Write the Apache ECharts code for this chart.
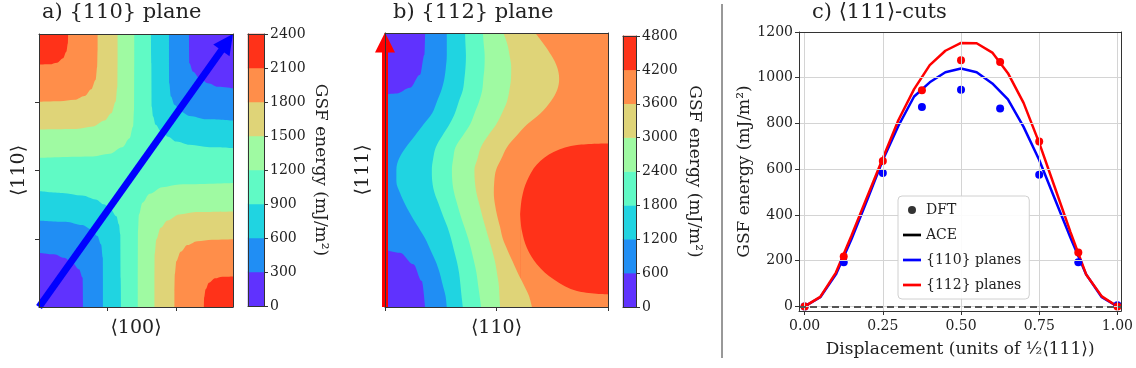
<!DOCTYPE html>
<html>
<head>
<meta charset="utf-8">
<script src="https://cdn.jsdelivr.net/npm/echarts@6/dist/echarts.min.js"></script>
<style>
  html, body { margin: 0; padding: 0; background: #fff; }
  #chart { width: 1136px; height: 368px; }
</style>
</head>
<body>
<div id="chart"></div>
<script>
// Contour edges. Map coordinates are fractions of each side:
// x from left to right, y from bottom to top.
const levels110 = [0, 300, 600, 900, 1200, 1500, 1800, 2100, 2400]
const levels112 = [0, 600, 1200, 1800, 2400, 3000, 3600, 4200, 4800]
const bandColors = ['#6032fe', '#208ef4', '#20d4e1', '#60fac5', '#9ffaa2', '#dfd478', '#ff8e4a', '#ff3219']

// a) {110} plane, [x, y] along each contour
const c1200TopLeft = [[0, 0.546], [0.278, 0.551], [0.364, 0.561], [0.43, 0.585], [0.467, 0.618], [0.485, 0.661], [0.49, 0.722], [0.491, 0.893], [0.491, 1]]
const c1500TopLeft = [[0, 0.65], [0.192, 0.652], [0.278, 0.661], [0.338, 0.683], [0.373, 0.71], [0.395, 0.752], [0.404, 0.807], [0.405, 0.893], [0.405, 1]]
const c1800TopLeft = [[0, 0.752], [0.107, 0.754], [0.184, 0.759], [0.235, 0.773], [0.27, 0.798], [0.292, 0.832], [0.3, 0.88], [0.302, 0.941], [0.302, 1]]
const c2100TopLeft = [[0, 0.888], [0.055, 0.889], [0.093, 0.895], [0.124, 0.911], [0.141, 0.935], [0.149, 0.966], [0.15, 1]]
const c900TopRight = [[0.577, 1], [0.579, 0.893], [0.581, 0.734], [0.588, 0.698], [0.601, 0.668], [0.63, 0.643], [0.665, 0.624], [0.708, 0.606], [0.777, 0.594], [0.88, 0.585], [1, 0.582]]
const c600TopRight = [[0.67, 1], [0.671, 0.82], [0.68, 0.771], [0.699, 0.74], [0.729, 0.716], [0.777, 0.7], [0.863, 0.688], [1, 0.683]]
const c300TopRight = [[0.773, 1], [0.775, 0.893], [0.794, 0.862], [0.828, 0.838], [0.871, 0.82], [0.923, 0.807], [1, 0.801]]
const c900BottomLeft = [[0, 0.425], [0.12, 0.418], [0.223, 0.408], [0.292, 0.394], [0.335, 0.376], [0.37, 0.357], [0.399, 0.332], [0.412, 0.302], [0.419, 0.266], [0.421, 0.107], [0.423, 0]]
const c600BottomLeft = [[0, 0.317], [0.137, 0.312], [0.223, 0.3], [0.271, 0.284], [0.301, 0.26], [0.32, 0.229], [0.329, 0.18], [0.33, 0]]
const c300BottomLeft = [[0, 0.199], [0.077, 0.193], [0.129, 0.18], [0.172, 0.162], [0.206, 0.138], [0.225, 0.107], [0.227, 0]]
const c1200BottomRight = [[0.509, 0], [0.509, 0.107], [0.51, 0.278], [0.515, 0.339], [0.533, 0.382], [0.57, 0.415], [0.636, 0.439], [0.722, 0.449], [1, 0.454]]
const c1500BottomRight = [[0.595, 0], [0.595, 0.107], [0.596, 0.193], [0.605, 0.248], [0.627, 0.29], [0.662, 0.317], [0.722, 0.339], [0.808, 0.348], [1, 0.35]]
const c1800BottomRight = [[0.698, 0], [0.698, 0.059], [0.7, 0.12], [0.708, 0.168], [0.73, 0.202], [0.765, 0.227], [0.816, 0.241], [0.893, 0.246], [1, 0.248]]
const c2100BottomRight = [[0.85, 0], [0.851, 0.034], [0.859, 0.065], [0.876, 0.089], [0.907, 0.105], [0.945, 0.111], [1, 0.112]]

// b) {112} plane, x of each contour on 25 rows from top to bottom
const c1200Rows = [0.277, 0.277, 0.277, 0.273, 0.266, 0.253, 0.233, 0.212, 0.173, 0.134, 0.094, 0.063, 0.051, 0.051, 0.067, 0.09, 0.118, 0.149, 0.18, 0.204, 0.227, 0.245, 0.258, 0.271, 0.277]
const c1800Rows = [0.359, 0.361, 0.363, 0.361, 0.356, 0.349, 0.331, 0.314, 0.289, 0.257, 0.228, 0.216, 0.21, 0.212, 0.222, 0.241, 0.26, 0.28, 0.296, 0.309, 0.322, 0.332, 0.338, 0.343, 0.349]
const c2400Rows = [0.439, 0.443, 0.447, 0.446, 0.441, 0.436, 0.422, 0.402, 0.382, 0.349, 0.316, 0.306, 0.3, 0.302, 0.31, 0.324, 0.339, 0.356, 0.373, 0.387, 0.399, 0.41, 0.417, 0.424, 0.431]
const c3000Rows = [0.531, 0.549, 0.559, 0.566, 0.565, 0.558, 0.547, 0.525, 0.499, 0.462, 0.43, 0.415, 0.401, 0.403, 0.41, 0.423, 0.436, 0.45, 0.465, 0.48, 0.493, 0.502, 0.51, 0.513, 0.516]
const c3600Rows = [0.674, 0.713, 0.747, 0.772, 0.781, 0.772, 0.743, 0.699, 0.638, 0.59, 0.547, 0.522, 0.498, 0.49, 0.488, 0.493, 0.503, 0.516, 0.528, 0.549, 0.572, 0.595, 0.621, 0.645, 0.659]
// b) closed pockets, [x, y]
const c600Top = [[0, 0.775], [0.052, 0.779], [0.112, 0.8], [0.157, 0.848], [0.177, 0.921], [0.18, 1]]
const c600Bottom = [[0, 0.21], [0.067, 0.198], [0.127, 0.156], [0.165, 0.095], [0.18, 0]]
const c4200Upper = [[0.606, 0.338], [0.614, 0.399], [0.636, 0.459], [0.681, 0.52], [0.756, 0.566], [0.861, 0.591], [1, 0.597]]
const c4200Lower = [[0.606, 0.338], [0.614, 0.277], [0.636, 0.216], [0.681, 0.156], [0.756, 0.101], [0.861, 0.058], [1, 0.046]]

// map ticks and cut arrows
const ticks110x = [0.3536, 0.7071]
const ticks110y = [0.25, 0.5, 0.75]
const ticks112x = [0, 0.5, 1]
const arrow110 = [[0, 0], [0.97, 0.97]]
const arrow112 = [[0, 0], [0, 0.965]]

// c) <111> cuts
const displacement = [0, 0.05, 0.1, 0.15, 0.2, 0.25, 0.3, 0.35, 0.4, 0.45, 0.5,
  0.55, 0.6, 0.65, 0.7, 0.75, 0.8, 0.85, 0.9, 0.95, 1]
const ace110 = [0, 40, 140, 295, 465, 640, 790, 918, 980, 1024, 1040,
  1024, 975, 905, 785, 640, 470, 300, 140, 40, 0]
const ace112 = [0, 42, 148, 310, 480, 648, 815, 950, 1055, 1118, 1152,
  1151, 1110, 1020, 890, 715, 520, 325, 140, 44, 0]
const dftDisplacement = [0, 0.125, 0.25, 0.375, 0.5, 0.625, 0.75, 0.875, 1]
const dft110 = [0, 193, 583, 872, 948, 865, 576, 193, 5]
const dft112 = [0, 218, 636, 945, 1077, 1069, 721, 236, 0]
const cutTicksX = [0, 0.25, 0.5, 0.75, 1]
const cutTicksY = [0, 200, 400, 600, 800, 1000, 1200]

const serif = 'DejaVu Serif'
const ink = '#222'
const nameStyle = { fontFamily: serif, fontSize: 19, color: ink }
const labelStyle = { fontFamily: serif, fontSize: 14, color: ink }
const frame = { show: true, onZero: false, lineStyle: { color: '#333', width: 1 } }
const plain = (v) => String(v)

const xAxes = []
const yAxes = []

function axis(list, opts) {
  list.push(Object.assign({
    z: 5,
    axisLine: { show: false },
    axisTick: { show: false },
    axisLabel: { show: false },
    splitLine: { show: false },
  }, opts))
  return list.length - 1
}

function edges(gridIndex) {
  axis(xAxes, { gridIndex, type: 'value', position: 'top', min: 0, max: 1, axisLine: frame })
  axis(yAxes, { gridIndex, type: 'value', position: 'right', min: 0, max: 1, axisLine: frame })
}

const indices = (n) => Array.from({ length: n }, (_, i) => i)
const tick = (values) => ({ show: true, customValues: values, length: 4, lineStyle: { color: '#333' } })

function pieces(levels) {
  return bandColors.map((c, k) => ({ gte: levels[k], lt: levels[k + 1], color: c }))
}

function barCells(levels) {
  return bandColors.map((c, k) => [0, k, (levels[k] + levels[k + 1]) / 2])
}

// filled band beyond one contour; origin says which plot side it fills towards
function band(points, level, levels, side, origin, xi, yi, monotone = 'x') {
  const k = levels.indexOf(level) + (side === 'above' ? 0 : -1)
  return {
    type: 'line', xAxisIndex: xi, yAxisIndex: yi, data: points,
    smooth: 0.35, smoothMonotone: monotone, symbol: 'none', silent: true, z: 2,
    lineStyle: { width: 0 },
    areaStyle: { color: bandColors[k], opacity: 1, origin },
  }
}

// a) {110} map
const mapAx = axis(xAxes, {
  gridIndex: 0, type: 'value', position: 'bottom', min: 0, max: 1,
  axisLine: frame, axisTick: tick(ticks110x),
  name: '⟨100⟩', nameLocation: 'middle', nameGap: 12, nameTextStyle: nameStyle,
})
const mapAy = axis(yAxes, {
  gridIndex: 0, type: 'value', position: 'left', min: 0, max: 1,
  axisLine: frame, axisTick: tick(ticks110y),
  name: '⟨110⟩', nameLocation: 'middle', nameGap: 10, nameTextStyle: nameStyle,
})
edges(0)

// a) colour bar
const barAx = axis(xAxes, { gridIndex: 1, type: 'category', data: [0], show: false })
const barAy = axis(yAxes, { gridIndex: 1, type: 'category', data: indices(8), show: false })
axis(xAxes, { gridIndex: 1, type: 'value', position: 'bottom', min: 0, max: 1, axisLine: frame })
axis(yAxes, { gridIndex: 1, type: 'value', position: 'left', min: 0, max: 1, axisLine: frame })
axis(xAxes, { gridIndex: 1, type: 'value', position: 'top', min: 0, max: 1, axisLine: frame })
axis(yAxes, {
  gridIndex: 1, type: 'value', position: 'right', min: 0, max: 2400, interval: 300,
  axisLine: frame, axisTick: { show: true, length: 4, lineStyle: { color: '#333' } },
  axisLabel: Object.assign({ show: true, margin: 6, formatter: plain }, labelStyle),
  name: 'GSF energy (mJ/m²)', nameLocation: 'middle', nameRotate: -90, nameGap: 48,
  nameTextStyle: Object.assign({}, nameStyle, { fontSize: 17 }),
})

// b) {112} map
const mapBx = axis(xAxes, {
  gridIndex: 2, type: 'value', position: 'bottom', min: 0, max: 1,
  axisLine: frame, axisTick: tick(ticks112x),
  name: '⟨110⟩', nameLocation: 'middle', nameGap: 12, nameTextStyle: nameStyle,
})
const mapBy = axis(yAxes, {
  gridIndex: 2, type: 'value', position: 'left', min: 0, max: 1,
  axisLine: frame,
  name: '⟨111⟩', nameLocation: 'middle', nameGap: 12, nameTextStyle: nameStyle,
})
const mapBrows = axis(yAxes, {
  gridIndex: 2, type: 'category', data: indices(c1200Rows.length), inverse: true, boundaryGap: false, show: false,
})
edges(2)

// b) colour bar
const barBx = axis(xAxes, { gridIndex: 3, type: 'category', data: [0], show: false })
const barBy = axis(yAxes, { gridIndex: 3, type: 'category', data: indices(8), show: false })
axis(xAxes, { gridIndex: 3, type: 'value', position: 'bottom', min: 0, max: 1, axisLine: frame })
axis(yAxes, { gridIndex: 3, type: 'value', position: 'left', min: 0, max: 1, axisLine: frame })
axis(xAxes, { gridIndex: 3, type: 'value', position: 'top', min: 0, max: 1, axisLine: frame })
axis(yAxes, {
  gridIndex: 3, type: 'value', position: 'right', min: 0, max: 4800, interval: 600,
  axisLine: frame, axisTick: { show: true, length: 4, lineStyle: { color: '#333' } },
  axisLabel: Object.assign({ show: true, margin: 6, formatter: plain }, labelStyle),
  name: 'GSF energy (mJ/m²)', nameLocation: 'middle', nameRotate: -90, nameGap: 50,
  nameTextStyle: Object.assign({}, nameStyle, { fontSize: 17 }),
})

// c) <111> cuts
const cutX = axis(xAxes, {
  gridIndex: 4, type: 'value', position: 'bottom', min: -0.018, max: 1.012,
  axisLine: frame, axisTick: tick(cutTicksX),
  axisLabel: Object.assign({ show: true, margin: 8, customValues: cutTicksX, formatter: (v) => v.toFixed(2) }, labelStyle),
  splitLine: { show: true, lineStyle: { color: '#d4d4d4', width: 1 } },
  name: 'Displacement (units of ½⟨111⟩)', nameLocation: 'middle', nameGap: 30,
  nameTextStyle: Object.assign({}, nameStyle, { fontSize: 17 }),
})
const cutY = axis(yAxes, {
  gridIndex: 4, type: 'value', position: 'left', min: -20, max: 1200,
  axisLine: frame, axisTick: tick(cutTicksY),
  axisLabel: Object.assign({ show: true, margin: 6, customValues: cutTicksY, formatter: plain }, labelStyle),
  splitLine: { show: true, lineStyle: { color: '#d4d4d4', width: 1 } },
  name: 'GSF energy (mJ/m²)', nameLocation: 'middle', nameGap: 44,
  nameTextStyle: Object.assign({}, nameStyle, { fontSize: 17 }),
})
edges(4)

const pairs = (xs, ys) => xs.map((x, i) => [x, ys[i]])
const rows = (xs) => xs.map((x, i) => [x, i])
const lineIcon = 'path://M0,0H20V3H0Z'

const series = [
  {
    type: 'heatmap', xAxisIndex: barAx, yAxisIndex: barAy,
    data: barCells(levels110), progressive: 0, emphasis: { disabled: true },
  },
  {
    type: 'heatmap', xAxisIndex: barBx, yAxisIndex: barBy,
    data: barCells(levels112), progressive: 0, emphasis: { disabled: true },
  },

  // a) background band is 900-1200, corners drawn outside in
  band(c1200TopLeft, 1200, levels110, 'above', 'end', mapAx, mapAy),
  band(c1500TopLeft, 1500, levels110, 'above', 'end', mapAx, mapAy),
  band(c1800TopLeft, 1800, levels110, 'above', 'end', mapAx, mapAy),
  band(c2100TopLeft, 2100, levels110, 'above', 'end', mapAx, mapAy),
  band(c900TopRight, 900, levels110, 'below', 'end', mapAx, mapAy),
  band(c600TopRight, 600, levels110, 'below', 'end', mapAx, mapAy),
  band(c300TopRight, 300, levels110, 'below', 'end', mapAx, mapAy),
  band(c900BottomLeft, 900, levels110, 'below', 'start', mapAx, mapAy),
  band(c600BottomLeft, 600, levels110, 'below', 'start', mapAx, mapAy),
  band(c300BottomLeft, 300, levels110, 'below', 'start', mapAx, mapAy),
  band(c1200BottomRight, 1200, levels110, 'above', 'start', mapAx, mapAy),
  band(c1500BottomRight, 1500, levels110, 'above', 'start', mapAx, mapAy),
  band(c1800BottomRight, 1800, levels110, 'above', 'start', mapAx, mapAy),
  band(c2100BottomRight, 2100, levels110, 'above', 'start', mapAx, mapAy),
  {
    type: 'lines', coordinateSystem: 'cartesian2d', xAxisIndex: mapAx, yAxisIndex: mapAy,
    data: [{ coords: arrow110 }], symbol: ['none', 'triangle'], symbolSize: 20,
    lineStyle: { color: '#0000ff', width: 7, opacity: 1 }, silent: true, clip: false, z: 4,
  },

  // b) background band is 3600-4200
  band(c4200Upper, 4200, levels112, 'above', 'start', mapBx, mapBy, false),
  band(c4200Lower, 4200, levels112, 'below', 'start', mapBx, mapBy, false),
  band(rows(c3600Rows), 3600, levels112, 'below', 'start', mapBx, mapBrows, false),
  band(rows(c3000Rows), 3000, levels112, 'below', 'start', mapBx, mapBrows, false),
  band(rows(c2400Rows), 2400, levels112, 'below', 'start', mapBx, mapBrows, false),
  band(rows(c1800Rows), 1800, levels112, 'below', 'start', mapBx, mapBrows, false),
  band(rows(c1200Rows), 1200, levels112, 'below', 'start', mapBx, mapBrows, false),
  band(c600Top, 600, levels112, 'below', 'end', mapBx, mapBy),
  band(c600Bottom, 600, levels112, 'below', 'start', mapBx, mapBy),
  {
    type: 'lines', coordinateSystem: 'cartesian2d', xAxisIndex: mapBx, yAxisIndex: mapBy,
    data: [{ coords: arrow112 }], symbol: ['none', 'triangle'], symbolSize: 20,
    lineStyle: { color: '#ff0000', width: 6, opacity: 1 }, silent: true, clip: false, z: 4,
  },

  // c) cuts
  {
    type: 'line', name: 'ACE', xAxisIndex: cutX, yAxisIndex: cutY, data: [],
    symbol: 'none', lineStyle: { color: '#000', width: 3 }, itemStyle: { color: '#000' },
    markLine: {
      silent: true, symbol: 'none', label: { show: false },
      lineStyle: { color: '#555', type: [7, 4], width: 2 },
      data: [{ yAxis: 0 }],
    },
  },
  {
    type: 'scatter', name: 'DFT', xAxisIndex: cutX, yAxisIndex: cutY, data: [],
    itemStyle: { color: '#000' },
  },
  {
    type: 'line', name: '{110} planes', xAxisIndex: cutX, yAxisIndex: cutY,
    data: pairs(displacement, ace110), symbol: 'none', z: 3,
    lineStyle: { color: '#0000ff', width: 2.5 }, itemStyle: { color: '#0000ff' },
  },
  {
    type: 'line', name: '{112} planes', xAxisIndex: cutX, yAxisIndex: cutY,
    data: pairs(displacement, ace112), symbol: 'none', z: 3,
    lineStyle: { color: '#ff0000', width: 2.5 }, itemStyle: { color: '#ff0000' },
  },
  {
    type: 'scatter', name: 'DFT {110}', xAxisIndex: cutX, yAxisIndex: cutY,
    data: pairs(dftDisplacement, dft110), symbolSize: 8, z: 4,
    itemStyle: { color: '#0000ff', opacity: 1 },
  },
  {
    type: 'scatter', name: 'DFT {112}', xAxisIndex: cutX, yAxisIndex: cutY,
    data: pairs(dftDisplacement, dft112), symbolSize: 8, z: 4,
    itemStyle: { color: '#ff0000', opacity: 1 },
  },
]

const option = {
  animation: false,
  backgroundColor: '#fff',
  textStyle: { fontFamily: serif },
  title: [
    { text: 'a) {110} plane', left: 40, top: 0 },
    { text: 'b) {112} plane', left: 391, top: 0 },
    { text: 'c) ⟨111⟩-cuts', left: 810, top: 0 },
  ].map((t) => Object.assign(t, {
    padding: 2,
    textStyle: { fontFamily: serif, fontSize: 21, fontWeight: 'normal', color: ink },
  })),
  grid: [
    { left: 39, top: 34, width: 194, height: 273, show: true, borderWidth: 0, backgroundColor: bandColors[3] },
    { left: 248, top: 34, width: 16, height: 272 },
    { left: 385, top: 33, width: 223, height: 274, show: true, borderWidth: 0, backgroundColor: bandColors[6] },
    { left: 623, top: 36, width: 13, height: 271 },
    { left: 799, top: 32, width: 324, height: 279 },
  ],
  xAxis: xAxes,
  yAxis: yAxes,
  visualMap: [
    { type: 'piecewise', show: false, seriesIndex: 0, pieces: pieces(levels110) },
    { type: 'piecewise', show: false, seriesIndex: 1, pieces: pieces(levels112) },
  ],
  legend: {
    data: [
      { name: 'DFT', icon: 'circle' },
      { name: 'ACE', icon: lineIcon },
      { name: '{110} planes', icon: lineIcon },
      { name: '{112} planes', icon: lineIcon },
    ],
    z: 10,
    orient: 'vertical',
    left: 898,
    top: 196,
    itemWidth: 18,
    itemHeight: 8,
    itemGap: 11,
    padding: [7, 8, 7, 5],
    backgroundColor: 'rgba(255,255,255,0.9)',
    borderColor: '#d0d0d0',
    borderWidth: 1,
    borderRadius: 4,
    textStyle: { fontFamily: serif, fontSize: 14, color: ink },
    selectedMode: false,
  },
  graphic: [
    { type: 'line', shape: { x1: 722, y1: 4, x2: 722, y2: 358 }, style: { stroke: '#333', lineWidth: 1 } },
  ],
  series,
}

const chart = echarts.init(document.getElementById('chart'))
chart.setOption(option)
</script>
</body>
</html>
